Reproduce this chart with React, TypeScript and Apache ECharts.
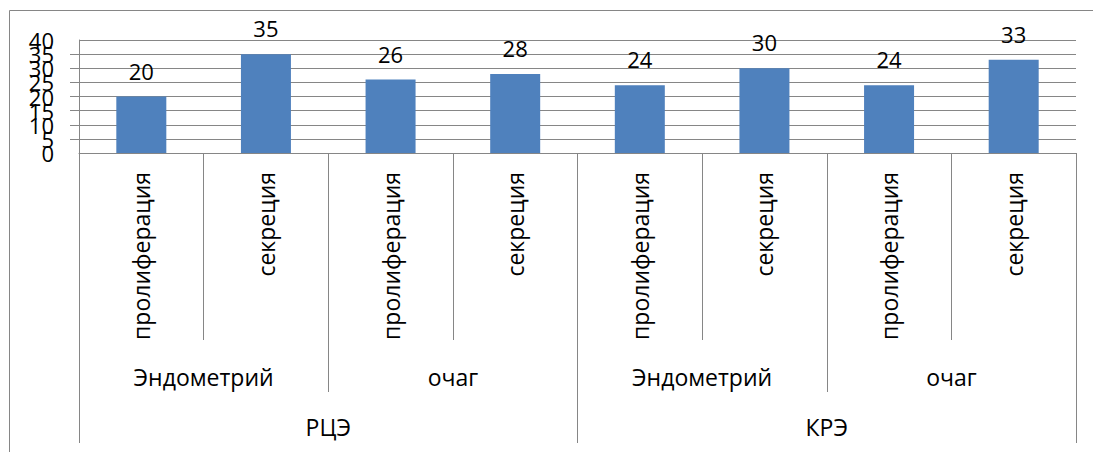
import React, { useEffect, useRef } from "react";
import * as echarts from "echarts";

// Three-level category axis: phase / tissue / group
const phases = [
  "пролиферация", "секреция", "пролиферация", "секреция",
  "пролиферация", "секреция", "пролиферация", "секреция",
];
const tissues = ["Эндометрий", "очаг", "Эндометрий", "очаг"];
const groups = ["РЦЭ", "КРЭ"];
const values = [20, 35, 26, 28, 24, 30, 24, 33];

const yMin = 0;
const yMax = 40;
const yStep = 5;

const FONT = "'Open Sans', 'Noto Sans', sans-serif";
const GRAY = "#868686";

const yLabelStyle = {
  margin: 25,
  color: "#000",
  fontFamily: FONT,
  fontSize: 22,
};

export default function App() {
  const ref = useRef<HTMLDivElement>(null);

  useEffect(() => {
    if (!ref.current) return;
    const chart = echarts.init(ref.current, null, { renderer: "svg" });

    const groupAxis = (data: string[], tickLen: number, margin: number) => ({
      type: "category",
      data,
      position: "bottom",
      gridIndex: 0,
      boundaryGap: true,
      axisLine: { show: false },
      axisTick: {
        show: true,
        interval: 0,
        length: tickLen,
        lineStyle: { color: GRAY, width: 1 },
      },
      axisLabel: {
        interval: 0,
        margin,
        color: "#000",
        fontFamily: FONT,
        fontSize: 23,
        verticalAlign: "middle",
      },
      splitLine: { show: false },
    });

    chart.setOption({
      animation: false,
      backgroundColor: "#fff",
      textStyle: { fontFamily: FONT },
      graphic: [
        {
          type: "rect",
          shape: { x: 9.5, y: 10.5, width: 1200, height: 600 },
          style: { fill: "none", stroke: GRAY, lineWidth: 1 },
          silent: true,
          z: -1,
        },
      ],
      grid: { left: 79, right: 17, top: 40, bottom: 299, containLabel: false },
      xAxis: [
        {
          type: "category",
          data: phases,
          position: "bottom",
          boundaryGap: true,
          axisLine: { show: true, lineStyle: { color: GRAY, width: 1 } },
          axisTick: {
            show: true,
            interval: 0,
            length: 187,
            lineStyle: { color: GRAY, width: 1 },
          },
          axisLabel: {
            interval: 0,
            rotate: 90,
            margin: 19,
            color: "#000",
            fontFamily: FONT,
            fontSize: 23,
          },
        },
        groupAxis(tissues, 239, 224),
        groupAxis(groups, 290, 274),
      ],
      yAxis: [
        {
          // main value axis: gridlines, ticks and the inner labels 5..35
          type: "value",
          position: "left",
          min: yMin,
          max: yMax,
          interval: yStep,
          axisLine: { show: true, lineStyle: { color: GRAY, width: 1 } },
          axisTick: { show: true, length: 9, lineStyle: { color: GRAY, width: 1 } },
          axisLabel: { ...yLabelStyle, showMinLabel: false, showMaxLabel: false },
          splitLine: { show: true, lineStyle: { color: GRAY, width: 1 } },
        },
        {
          // same scale, only carries the end labels 0 and 40
          type: "value",
          position: "left",
          offset: 0,
          min: yMin,
          max: yMax,
          interval: yMax - yMin,
          axisLine: { show: false },
          axisTick: { show: false },
          axisLabel: { ...yLabelStyle, showMinLabel: true, showMaxLabel: true },
          splitLine: { show: false },
        },
      ],
      series: [
        {
          type: "bar",
          xAxisIndex: 0,
          yAxisIndex: 0,
          data: values,
          barWidth: 50,
          itemStyle: { color: "#4F81BD" },
          label: {
            show: true,
            position: "top",
            distance: 15,
            color: "#000",
            fontFamily: FONT,
            fontSize: 22,
          },
        },
      ],
    });

    return () => chart.dispose();
  }, []);

  return (
    <div
      ref={ref}
      style={{ position: "fixed", left: 0, top: 0, width: 1093, height: 452 }}
    />
  );
}
